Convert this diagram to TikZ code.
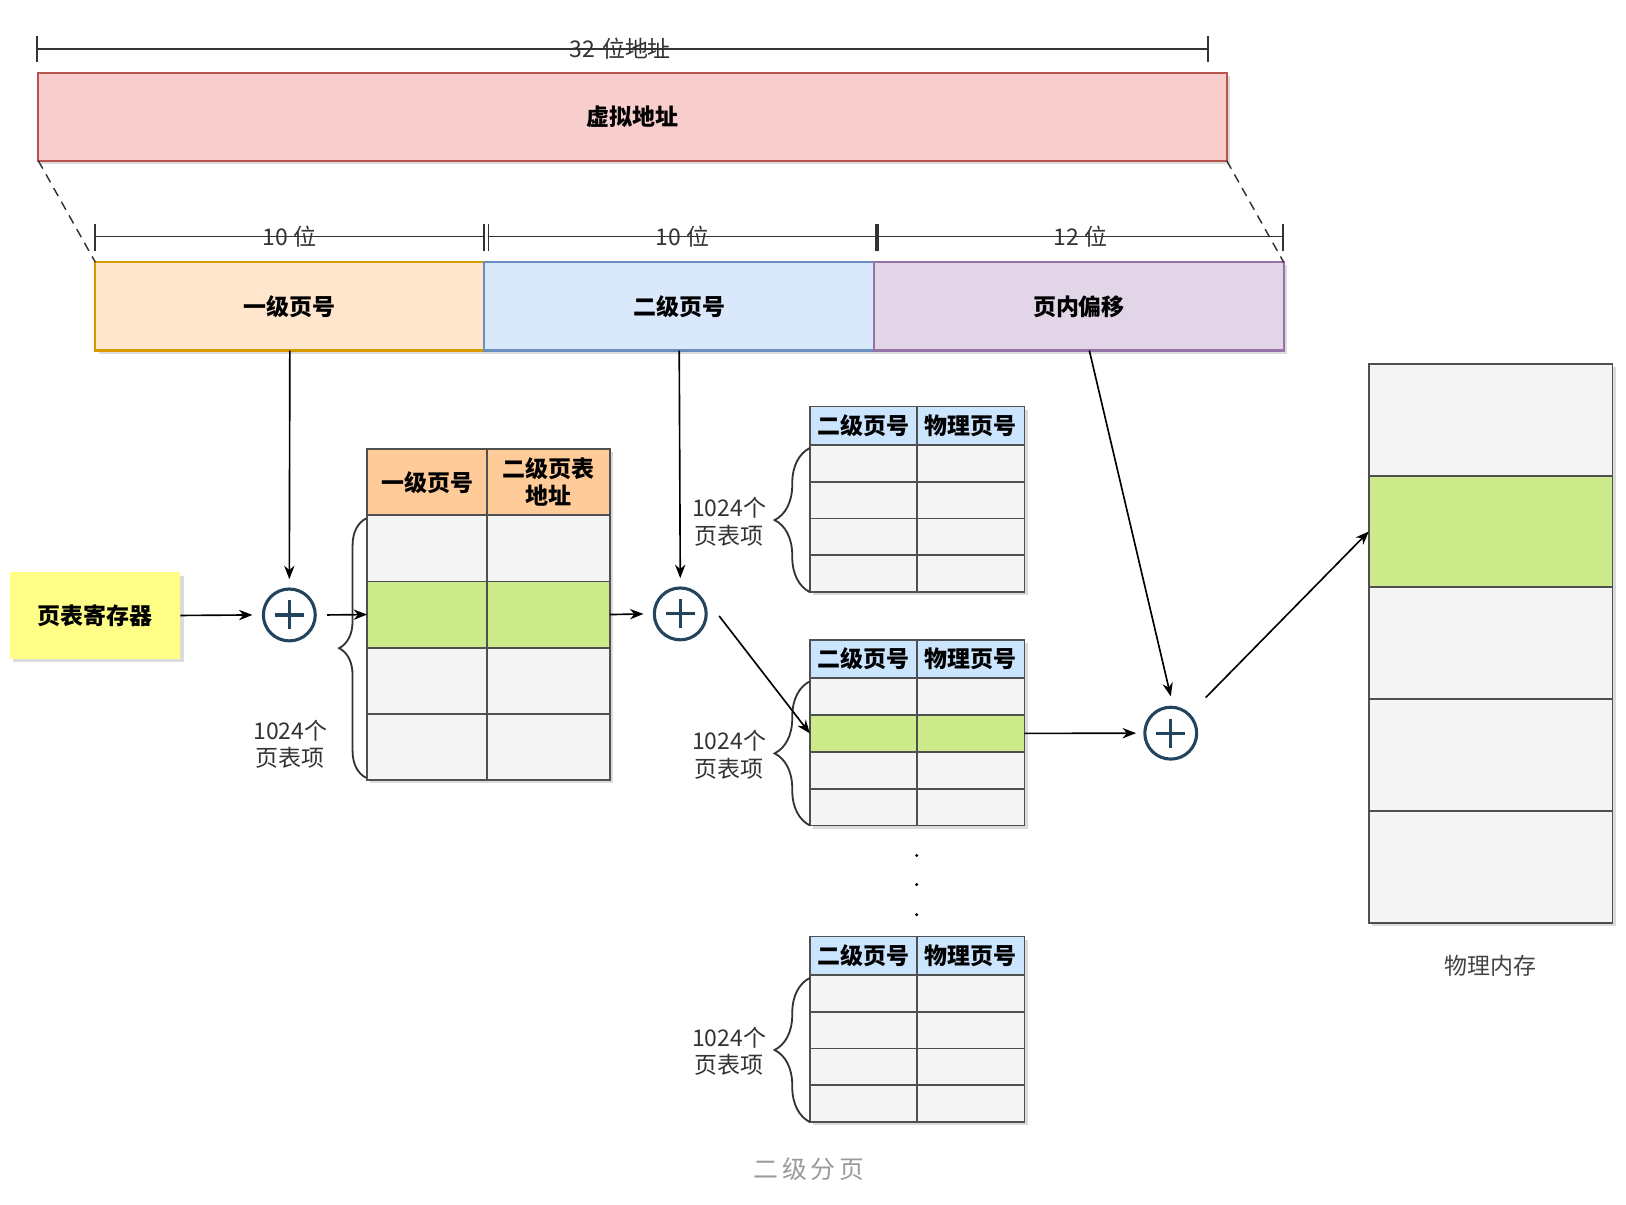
\documentclass[tikz,border=0pt]{standalone}
\usepackage{fontspec}
\setmainfont{Noto Sans CJK SC}
\usetikzlibrary{arrows.meta,calc,decorations.pathreplacing}

\definecolor{cpinkF}{HTML}{F8CECC}\definecolor{cpinkD}{HTML}{B85450}
\definecolor{corgF}{HTML}{FFE6CC}\definecolor{corgD}{HTML}{D79B00}
\definecolor{cbluF}{HTML}{DAE8FC}\definecolor{cbluD}{HTML}{6C8EBF}
\definecolor{cpurF}{HTML}{E1D5E7}\definecolor{cpurD}{HTML}{9673A6}
\definecolor{cyel}{HTML}{FFFF88}
\definecolor{chdrO}{HTML}{FFCC99}
\definecolor{chdrB}{HTML}{CCE5FF}
\definecolor{ccell}{HTML}{F5F5F5}
\definecolor{cgreen}{HTML}{CDEB8B}
\definecolor{cedge}{HTML}{505050}
\definecolor{cteal}{HTML}{23445D}
\definecolor{ctext}{HTML}{333333}
\definecolor{cmem}{HTML}{444444}
\definecolor{ccap}{HTML}{9A9A9A}

\newcommand{\fs}{\fontsize{6.3}{7.5}\selectfont}
% name, x1, y1, x2, y2, style, text
\newcommand{\mkcell}[7]{\node[#6, minimum width={((#4)-(#2))*0.01cm}, minimum height={((#5)-(#3))*0.01cm}] (#1) at ({((#2)+(#4))/2},{((#3)+(#5))/2}) {#7};}

\tikzset{
  base/.style={inner sep=0pt, outer sep=0pt, line width=0.5pt},
  cellst/.style={base, draw=cedge, fill=ccell},
  greenst/.style={base, draw=cedge, fill=cgreen},
  hdrO/.style={base, draw=cedge, fill=chdrO, font=\bfseries\fs, align=center},
  hdrB/.style={base, draw=cedge, fill=chdrB, font=\bfseries\fs},
  bigbox/.style={base, line width=0.6pt, font=\bfseries\fs, text=black},
  shd/.style={fill=black, opacity=0.14},
  arr/.style={-{Stealth[length=0.13cm,width=0.1cm]}, line width=0.45pt, draw=black},
  dim/.style={line width=0.5pt, draw=ctext},
  dimlbl/.style={font=\fs, text=ctext, inner sep=0pt},
  lbl/.style={font=\fs, text=ctext, align=center, inner sep=0pt},
  brc/.style={decorate, line width=0.5pt, draw=ctext},
  plus/.style={circle, draw=cteal, line width=0.85pt, minimum size=0.5cm, inner sep=0pt,
    path picture={\draw[cteal, line width=0.85pt]
      ([xshift=-0.14cm]path picture bounding box.center) -- ([xshift=0.14cm]path picture bounding box.center)
      ([yshift=-0.14cm]path picture bounding box.center) -- ([yshift=0.14cm]path picture bounding box.center);}},
}

\begin{document}
\begin{tikzpicture}[x=0.01cm, y=-0.01cm]
\fill[white] (0,0) rectangle (1568,1162);
\useasboundingbox (0,0) rectangle (1568,1162);

% ---- 32-bit dimension
\coordinate (d0a) at (36,47); \coordinate (d0b) at (1165,47);
\draw[dim] (d0a) -- (d0b);
\draw[dim] (36,35) -- (36,60); \draw[dim] (1165,35) -- (1165,60);
\node[dimlbl] (d0l) at (598,47) {32\hspace{2pt}位地址};

% ---- virtual address
\fill[shd] (40,73) rectangle (1186,158);
\mkcell{va}{37}{70}{1183}{155}{bigbox, draw=cpinkD, fill=cpinkF}{虚拟地址}

% ---- sub dimension lines
\draw[dim] (92,228) -- (467,228);
\draw[dim] (471,228) -- (845,228);
\draw[dim] (847,228) -- (1237,228);
\foreach \xx in {92,467,471,845,847,1237}{\draw[dim] (\xx,216) -- (\xx,242);}
\node[dimlbl] (d1l) at (279,228) {10 位};
\node[dimlbl] (d2l) at (658,228) {10 位};
\node[dimlbl] (d3l) at (1042,228) {12 位};

% ---- split boxes
\fill[shd] (95,256) rectangle (1241,341);
\mkcell{b1}{92}{253}{467}{338}{bigbox, draw=corgD, fill=corgF}{一级页号}
\mkcell{b2}{467}{253}{843}{338}{bigbox, draw=cbluD, fill=cbluF}{二级页号}
\mkcell{b3}{843}{253}{1238}{338}{bigbox, draw=cpurD, fill=cpurF}{页内偏移}

\draw[dashed, dash pattern=on 2.5pt off 1.8pt, line width=0.4pt, ctext] (va.south west) -- (b1.north west);
\draw[dashed, dash pattern=on 2.5pt off 1.8pt, line width=0.4pt, ctext] (va.south east) -- (b3.north east);

% ---- page table register
\fill[shd] (13,555) rectangle (177,638);
\mkcell{reg}{10}{552}{174}{635}{bigbox, fill=cyel}{页表寄存器}

% ---- plus circles
\node[plus] (p1) at (279,593) {};
\node[plus] (p2) at (656,592) {};
\node[plus] (p3) at (1129,707) {};

% ---- first-level table
\fill[shd] (357,436) rectangle (591,755);
\mkcell{t1h1}{354}{433}{470}{497}{hdrO}{一级页号}
\mkcell{t1h2}{470}{433}{588}{497}{hdrO}{二级页表\\地址}
\foreach \r/\ya/\yb in {1/497/560.75, 2/560.75/624.5, 3/624.5/688.25, 4/688.25/752}{
  \ifnum\r=2 \def\st{greenst}\else\def\st{cellst}\fi
  \mkcell{t1r\r a}{354}{\ya}{470}{\yb}{\st}{}
  \mkcell{t1r\r b}{470}{\ya}{588}{\yb}{\st}{}
}
\draw[brc, decoration={brace, amplitude=0.26cm}] (353,750) -- (353,500);
\node[lbl] (t1txt) at (280,718) {1024个\\页表项};

% ---- second-level tables
\foreach \t/\ty in {2/392, 3/617, 4/903}{
  \fill[shd] (784,\ty+3) rectangle (991,\ty+182);
  \mkcell{t\t h1}{781}{\ty}{884}{\ty+37}{hdrB}{二级页号}
  \mkcell{t\t h2}{884}{\ty}{988}{\ty+37}{hdrB}{物理页号}
  \foreach \r in {1,2,3,4}{
    \pgfmathsetmacro{\ya}{\ty+37+(\r-1)*35.5}
    \pgfmathsetmacro{\yb}{\ya+35.5}
    \ifnum\t\r=32 \def\st{greenst}\else\def\st{cellst}\fi
    \mkcell{t\t r\r a}{781}{\ya}{884}{\yb}{\st}{}
    \mkcell{t\t r\r b}{884}{\ya}{988}{\yb}{\st}{}
  }
  \draw[brc, decoration={brace, amplitude=0.34cm}] (781,\ty+179) -- (781,\ty+40);
  \node[lbl] (t\t txt) at (703,\ty+111) {1024个\\页表项};
}

% ---- dots
\foreach \yy in {825,853,882}{\fill[black] (884,\yy) circle[radius=0.016cm];}

% ---- physical memory
\fill[shd] (1323,354) rectangle (1558,893);
\foreach \r/\ya/\yb in {1/351/459, 2/459/566, 3/566/674, 4/674/782, 5/782/890}{
  \ifnum\r=2 \def\st{greenst}\else\def\st{cellst}\fi
  \mkcell{m\r}{1320}{\ya}{1555}{\yb}{\st}{}
}
\node[font=\fs, text=cmem] (mlbl) at (1437,931) {物理内存};

% ---- arrows
\draw[arr] (b1.south) -- ($(p1.north)+(0,-8)$);
\draw[arr] (b2.south) -- ($(p2.north)+(0,-8)$);
\draw[arr] ($(b3.south)+(10,0)$) -- ($(p3.north)+(0,-9)$);
\draw[arr] (reg.east) -- ($(p1.west)+(-9,0)$);
\draw[arr] ($(p1.east)+(10,0)$) -- (t1r2a.west);
\draw[arr] (t1r2b.east) -- ($(p2.west)+(-9,0)$);
\draw[arr] ($(p2.east)+(11,2)$) -- (t3r2a.west);
\draw[arr] (t3r2b.east) -- ($(p3.west)+(-7,0)$);
\draw[arr] ($(p3)!0.48cm!(m2.west)$) -- (m2.west);

% ---- caption
\node[font=\fontsize{6.8}{8}\selectfont, text=ccap] (cap) at (780,1127) {二\hspace{1pt}级\hspace{1pt}分\hspace{1pt}页};
\end{tikzpicture}
\end{document}
